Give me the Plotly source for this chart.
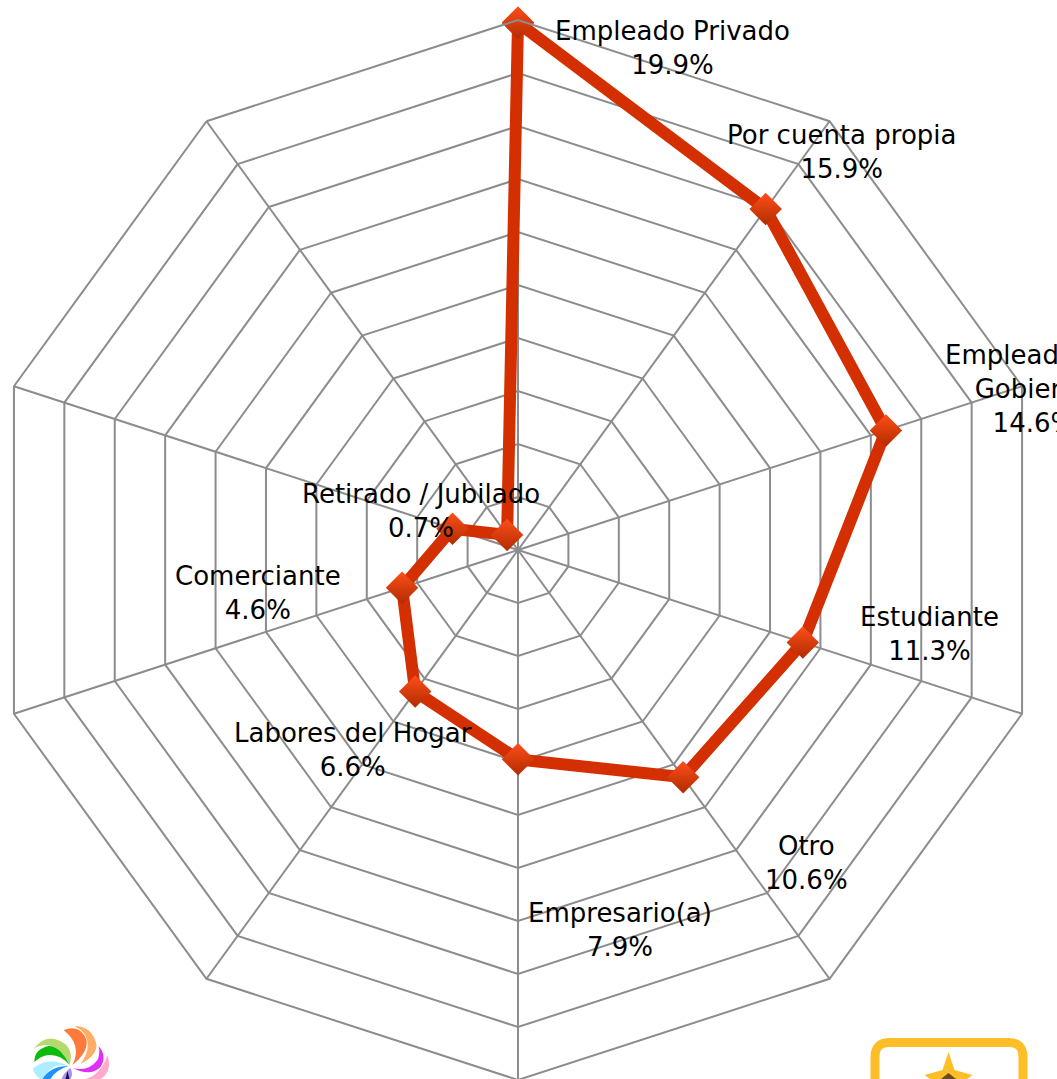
import plotly.graph_objects as go

# ---------- data ----------
categories = ["Empleado Privado", "Por cuenta propia", "Empleado del Gobierno", "Estudiante", "Otro",
              "Empresario(a)", "Labores del Hogar", "Comerciante", "Sin etiqueta", "Retirado / Jubilado"]
values = [19.9, 15.9, 14.6, 11.3, 10.6, 7.9, 6.6, 4.6, 2.6, 0.7]
label_lines = ["Empleado Privado", "Por cuenta propia", "Empleado del<br>Gobierno", "Estudiante", "Otro",
               "Empresario(a)", "Labores del Hogar", "Comerciante", "", "Retirado / Jubilado"]
label_values = ["19.9%", "15.9%", "14.6%", "11.3%", "10.6%", "7.9%", "6.6%", "4.6%", "", "0.7%"]

# ---------- page geometry ----------
FIG_W, FIG_H = 1200, 1120
SHIFT = 12.5
def X(px): return (px + SHIFT) / FIG_W
def Y(py): return 1 - py / FIG_H

label_xy = [(672, 48), (841, 152), (1033, 389), (929, 634), (806, 862.5),
            (619, 930), (352, 750), (257, 593), None, (420, 511)]

fig = go.Figure()
fig.add_trace(go.Scatterpolar(
    r=values + values[:1], theta=categories + categories[:1],
    mode="lines+markers",
    line=dict(color="#D32F00", width=12, shape="linear"),
    marker=dict(symbol="diamond", size=25, color="#FF4E1A",
                gradient=dict(type="vertical", color="#B02C00"),
                line=dict(width=0)),
    showlegend=False, cliponaxis=False, hoverinfo="skip",
))

annotations = []
for name, val, xy in zip(label_lines, label_values, label_xy):
    if xy is None:
        continue
    annotations.append(dict(
        x=X(xy[0]), y=Y(xy[1]), xref="paper", yref="paper", xanchor="center", yanchor="middle",
        text=f"{name}<br>{val}", showarrow=False, align="center",
        font=dict(family="DejaVu Sans, Verdana, sans-serif", size=26, color="#000000"),
    ))

def path(points_d, fill):
    return dict(type="path", xref="paper", yref="paper", path=points_d, fillcolor=fill, line=dict(width=0))

def conv(cmds):
    out = []
    for c in cmds:
        head, pts = c[0], c[1:]
        out.append(head + " ".join(f"{X(x):.5f},{Y(y):.5f}" for x, y in pts))
    return " ".join(out) + " Z"

petals = [
    ("#B5D96B", [("M",(33,1049)),("Q",(47,1030),(66,1045)),("Q",(73,1053),(69,1065)),("Q",(62,1048),(47,1045)),("Q",(38,1045),(33,1049))]),
    ("#0DBB0D", [("M",(34,1062)),("Q",(33,1050),(48,1046)),("Q",(60,1046),(69,1065)),("Q",(60,1054),(48,1055)),("Q",(40,1056),(34,1062))]),
    ("#FFAE68", [("M",(74,1026)),("Q",(92,1026),(96,1045)),("Q",(96,1056),(80,1064)),("Q",(92,1048),(84,1034)),("Q",(80,1029),(74,1026))]),
    ("#FF7A3A", [("M",(63,1030)),("Q",(80,1024),(86,1040)),("Q",(88,1052),(72,1065)),("Q",(82,1045),(63,1030))]),
    ("#FFAACC", [("M",(107,1055)),("Q",(112,1072),(100,1079)),("L",(85,1079)),("Q",(100,1075),(107,1055))]),
    ("#E030F8", [("M",(98,1046)),("Q",(107,1056),(100,1067)),("Q",(90,1077),(72,1068)),("Q",(88,1072),(97,1060)),("Q",(100,1053),(98,1046))]),
    ("#AAEEFF", [("M",(33,1068)),("Q",(48,1056),(68,1066)),("Q",(50,1062),(44,1079)),("L",(40,1079)),("Q",(32,1073),(33,1068))]),
    ("#2090FF", [("M",(42,1079)),("Q",(50,1066),(68,1066)),("Q",(55,1070),(50,1079))]),
    ("#A890F0", [("M",(61,1079)),("Q",(64,1072),(70,1068)),("Q",(73,1074),(70,1079))]),
    ("#1A1050", [("M",(65,1079)),("L",(67,1071)),("L",(69,1079))]),
    ("#FDBE27", [("M",(948,1052)),("L",(954,1070)),("L",(972,1075)),("L",(964,1081)),("L",(932,1081)),("L",(924,1075)),("L",(942,1070))]),
    ("#6B4A20", [("M",(948,1073)),("L",(958,1081)),("L",(938,1081))]),
]
shapes = [path(conv(cmd), col) for col, cmd in petals]
frame = (f"M{X(874.5):.5f},{Y(1100):.5f} L{X(874.5):.5f},{Y(1057):.5f} "
         f"Q{X(874.5):.5f},{Y(1042.5):.5f} {X(889):.5f},{Y(1042.5):.5f} "
         f"L{X(1008):.5f},{Y(1042.5):.5f} Q{X(1022.5):.5f},{Y(1042.5):.5f} {X(1022.5):.5f},{Y(1057):.5f} "
         f"L{X(1022.5):.5f},{Y(1100):.5f}")
shapes.append(dict(type="path", xref="paper", yref="paper", path=frame, line=dict(color="#FDBE27", width=9)))

fig.update_layout(
    width=FIG_W, height=FIG_H, autosize=False,
    margin=dict(l=0, r=0, t=0, b=0, pad=0),
    paper_bgcolor="#FFFFFF", plot_bgcolor="#FFFFFF",
    showlegend=False,
    annotations=annotations, shapes=shapes,
    polar=dict(
        domain=dict(x=[0, 1060 / FIG_W], y=[1 - 1080 / FIG_H, 1 - 20 / FIG_H]),
        bgcolor="#FFFFFF", gridshape="linear",
        radialaxis=dict(range=[0, 20], dtick=2, angle=90, showticklabels=False, ticks="",
                        showline=False, gridcolor="#8C8C8C", gridwidth=2),
        angularaxis=dict(type="category", categoryorder="array", categoryarray=categories,
                         direction="clockwise", rotation=90, showticklabels=False, ticks="",
                         showline=True, linecolor="#8C8C8C", linewidth=2,
                         gridcolor="#8C8C8C", gridwidth=2),
    ),
)

post = ("document.documentElement.style.overflow='hidden';document.body.style.margin='0';"
        "document.body.style.overflow='hidden';"
        "var g=document.getElementById('{plot_id}');g.style.position='absolute';"
        f"g.style.left='{-SHIFT}px';g.style.top='0px';")
fig.write_html("out.html", post_script=post, config=dict(displayModeBar=False))
